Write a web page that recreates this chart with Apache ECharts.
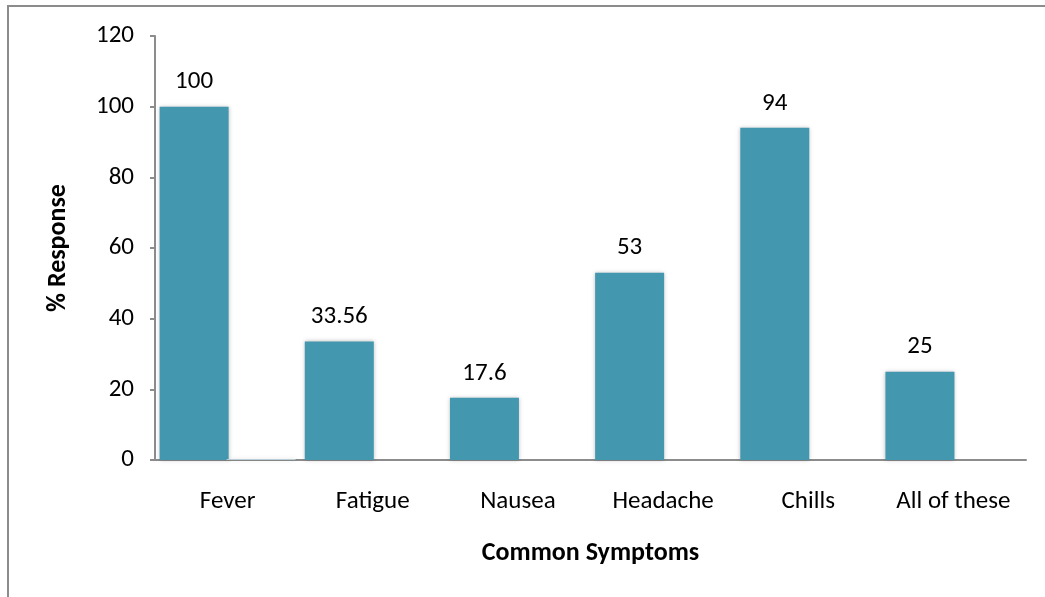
<!DOCTYPE html>
<html>
<head>
<meta charset="utf-8">
<script src="https://cdn.jsdelivr.net/npm/echarts@6/dist/echarts.min.js"></script>
<style>
  html, body { margin: 0; padding: 0; background: #fff; }
  #chart { width: 1045px; height: 597px; }
</style>
</head>
<body>
<div id="chart"></div>
<script>
const symptoms = ['Fever', 'Fatigue', 'Nausea', 'Headache', 'Chills', 'All of these']
const responses = [100, 33.56, 17.6, 53, 94, 25]
// second (empty) series, only a sliver shows next to Fever
const emptySeries = [0.3, 0, 0, 0, 0, 0]
const yTicks = { min: 0, max: 120, interval: 20 }

const font = 'Carlito, Calibri, Lato, sans-serif'
const barColor = '#4398b0'

const chart = echarts.init(document.getElementById('chart'))
chart.setOption({
  animation: false,
  graphic: [
    {
      type: 'rect',
      shape: { x: 8, y: 6, width: 1100, height: 700 },
      style: { fill: 'none', stroke: '#8c8c8c', lineWidth: 2 },
      silent: true,
    },
  ],
  grid: { left: 155, right: 19, top: 36, bottom: 137 },
  xAxis: {
    type: 'category',
    data: symptoms,
    name: 'Common Symptoms',
    nameLocation: 'middle',
    nameGap: 80,
    nameTextStyle: { fontFamily: font, fontSize: 26, fontWeight: 'bold', color: '#000' },
    axisLine: { lineStyle: { color: '#8c8c8c', width: 2 } },
    axisTick: { show: false },
    axisLabel: { fontFamily: font, fontSize: 25, color: '#000', margin: 29, interval: 0 },
  },
  yAxis: {
    type: 'value',
    min: yTicks.min,
    max: yTicks.max,
    interval: yTicks.interval,
    name: '% Response',
    nameLocation: 'middle',
    nameGap: 84,
    nameTextStyle: { fontFamily: font, fontSize: 26, fontWeight: 'bold', color: '#000' },
    axisLine: { show: true, lineStyle: { color: '#8c8c8c', width: 2 } },
    axisTick: { show: true, length: 5, lineStyle: { color: '#8c8c8c', width: 2 } },
    axisLabel: { fontFamily: font, fontSize: 25, color: '#000', margin: 21 },
    splitLine: { show: false },
  },
  series: [
    {
      type: 'bar',
      data: responses,
      barWidth: 69,
      barGap: '-3%',
      itemStyle: {
        color: barColor,
        shadowBlur: 4,
        shadowColor: 'rgba(0,0,0,0.25)',
      },
      label: {
        show: true,
        position: 'top',
        distance: 12,
        fontFamily: font,
        fontSize: 25,
        color: '#000',
      },
    },
    {
      type: 'bar',
      data: emptySeries,
      barWidth: 69,
      itemStyle: {
        color: '#b8cdd6',
        shadowBlur: 4,
        shadowColor: 'rgba(0,0,0,0.2)',
      },
    },
  ],
})
</script>
</body>
</html>
